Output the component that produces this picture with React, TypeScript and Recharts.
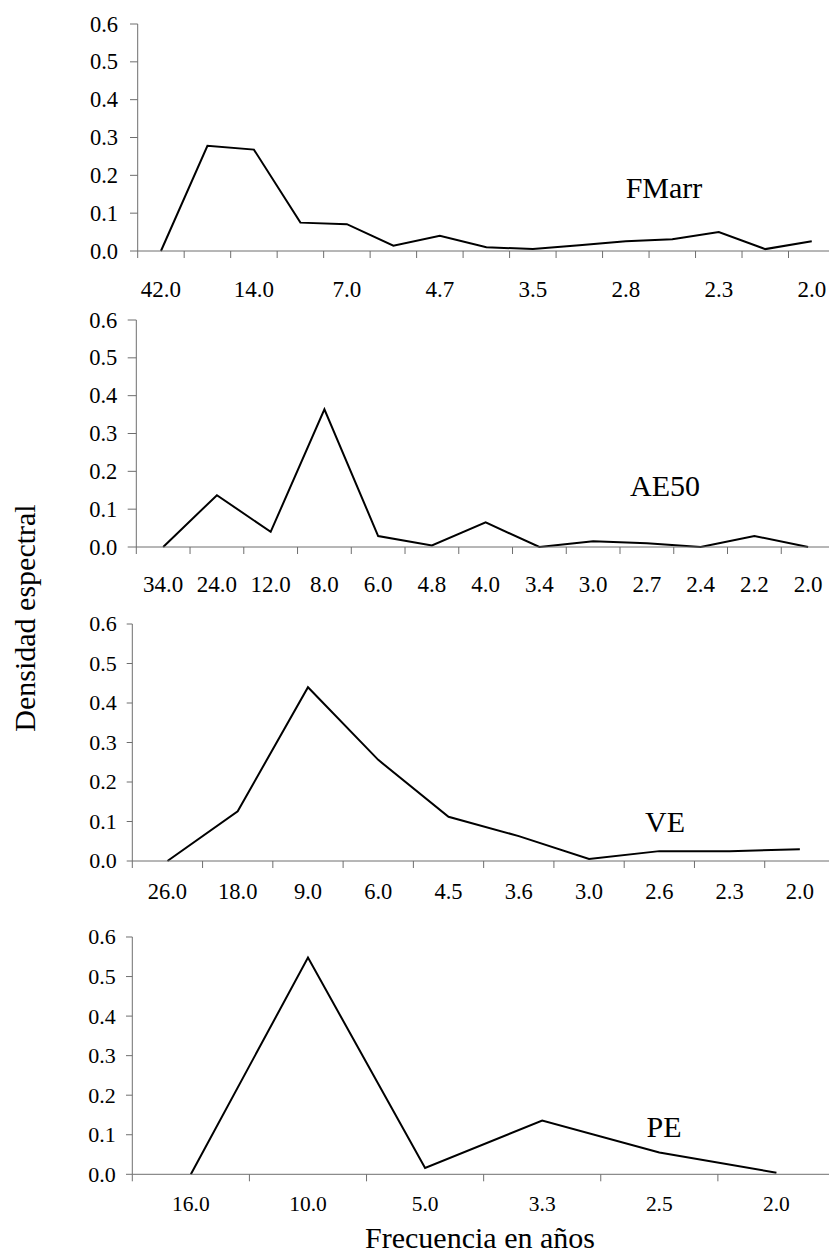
import React from 'react'
import { LineChart, Line, XAxis, YAxis } from 'recharts'

const FONT = '"Liberation Serif", "Times New Roman", Times, serif'
const AXIS = '#6e6e6e'
const CHART_W = 850
const PLOT_RIGHT = 835

// FMarr: 15 frequencies, only every other one carries a label
const fmarrPeriods = ['42.0', '', '14.0', '', '7.0', '', '4.7', '', '3.5', '', '2.8', '', '2.3', '', '2.0']
const fmarrValues = [0.0, 0.278, 0.268, 0.075, 0.071, 0.014, 0.04, 0.01, 0.005, 0.015, 0.026, 0.031, 0.05, 0.005, 0.026]

const ae50Periods = ['34.0', '24.0', '12.0', '8.0', '6.0', '4.8', '4.0', '3.4', '3.0', '2.7', '2.4', '2.2', '2.0']
const ae50Values = [0.0, 0.137, 0.04, 0.364, 0.029, 0.004, 0.065, 0.0, 0.015, 0.01, 0.0, 0.029, 0.0]

const vePeriods = ['26.0', '18.0', '9.0', '6.0', '4.5', '3.6', '3.0', '2.6', '2.3', '2.0']
const veValues = [0.0, 0.126, 0.44, 0.256, 0.112, 0.063, 0.005, 0.025, 0.025, 0.03]

const pePeriods = ['16.0', '10.0', '5.0', '3.3', '2.5', '2.0']
const peValues = [0.0, 0.548, 0.016, 0.136, 0.055, 0.004]

const yTicks = [0, 0.1, 0.2, 0.3, 0.4, 0.5, 0.6]

function CatTick(props: any) {
  const { x, y, payload, half, fontSize, dy, labels } = props
  const label = labels[Number(payload.value)]
  return (
    <g>
      <line x1={x - half} x2={x - half} y1={y} y2={y + 7} stroke={AXIS} strokeWidth={1} />
      {label ? (
        <text
          x={x}
          y={y + dy}
          textAnchor="middle"
          fill="#000"
          fontSize={fontSize}
          fontFamily={FONT}
          style={{ fontFamily: FONT }}
        >
          {label}
        </text>
      ) : null}
    </g>
  )
}

function ValueTick(props: any) {
  const { x, y, payload, fontSize } = props
  return (
    <text
      x={x}
      y={y}
      dy="0.34em"
      textAnchor="end"
      fill="#000"
      fontSize={fontSize}
      fontFamily={FONT}
      style={{ fontFamily: FONT }}
    >
      {Number(payload.value).toFixed(1)}
    </text>
  )
}

interface PanelProps {
  periods: string[]
  values: number[]
  top: number
  left: number
  height: number
  xFont: number
  yFont: number
  labelDy: number
  ySize: number
  yMargin: number
}

function Panel({ periods, values, top, left, height, xFont, yFont, labelDy, ySize, yMargin }: PanelProps) {
  // category key is the position, the shown text comes from the periods list
  const data = periods.map((_, i) => ({ key: String(i), value: values[i] }))
  const marginTop = 12
  const axisH = 60
  const half = (PLOT_RIGHT - left) / periods.length / 2
  return (
    <div style={{ position: 'absolute', left: 0, top: top - marginTop }}>
      <LineChart
        width={CHART_W}
        height={marginTop + height + axisH}
        data={data}
        margin={{ top: marginTop, right: CHART_W - PLOT_RIGHT, bottom: 0, left: 0 }}
      >
        <XAxis
          dataKey="key"
          scale="band"
          interval={0}
          height={axisH}
          axisLine={{ stroke: AXIS }}
          tickLine={false}
          tickSize={0}
          tickMargin={0}
          tick={(p: any) => (
            <CatTick {...p} half={half} fontSize={xFont} dy={labelDy} labels={periods} />
          )}
        />
        <YAxis
          type="number"
          domain={[0, 0.6]}
          ticks={yTicks}
          interval={0}
          width={left}
          axisLine={{ stroke: AXIS }}
          tickLine={{ stroke: AXIS }}
          tickSize={ySize}
          tickMargin={yMargin}
          tick={(p: any) => <ValueTick {...p} fontSize={yFont} />}
        />
        <Line
          dataKey="value"
          type="linear"
          stroke="#000"
          strokeWidth={2}
          dot={false}
          isAnimationActive={false}
        />
      </LineChart>
    </div>
  )
}

export default function App() {
  return (
    <div
      style={{
        position: 'absolute',
        left: 0,
        top: 0,
        width: 829,
        height: 1254,
        overflow: 'hidden',
        background: '#fff',
        fontFamily: FONT,
      }}
    >
      <Panel periods={fmarrPeriods} values={fmarrValues} top={24} left={137.7} height={227}
        xFont={23} yFont={22.5} labelDy={45.5} ySize={7.7} yMargin={12} />
      <Panel periods={ae50Periods} values={ae50Values} top={320} left={136.3} height={227}
        xFont={23} yFont={22.5} labelDy={44.7} ySize={8.6} yMargin={10.4} />
      <Panel periods={vePeriods} values={veValues} top={623.7} left={132.3} height={237}
        xFont={22.5} yFont={22} labelDy={37.6} ySize={5.6} yMargin={10} />
      <Panel periods={pePeriods} values={peValues} top={936.7} left={132.3} height={237.3}
        xFont={21.5} yFont={22} labelDy={36.7} ySize={6.3} yMargin={10.3} />
      <svg
        width={829}
        height={1254}
        style={{ position: 'absolute', left: 0, top: 0, pointerEvents: 'none' }}
      >
        <g fontFamily={FONT} style={{ fontFamily: FONT }} fontSize={30} fill="#000" textAnchor="middle">
          <text x={664} y={198}>FMarr</text>
          <text x={665} y={496}>AE50</text>
          <text x={665} y={832}>VE</text>
          <text x={664} y={1137}>PE</text>
          <text x={480} y={1248}>Frecuencia en años</text>
          <text x={35} y={618} transform="rotate(-90 35 618)">Densidad espectral</text>
        </g>
      </svg>
    </div>
  )
}
